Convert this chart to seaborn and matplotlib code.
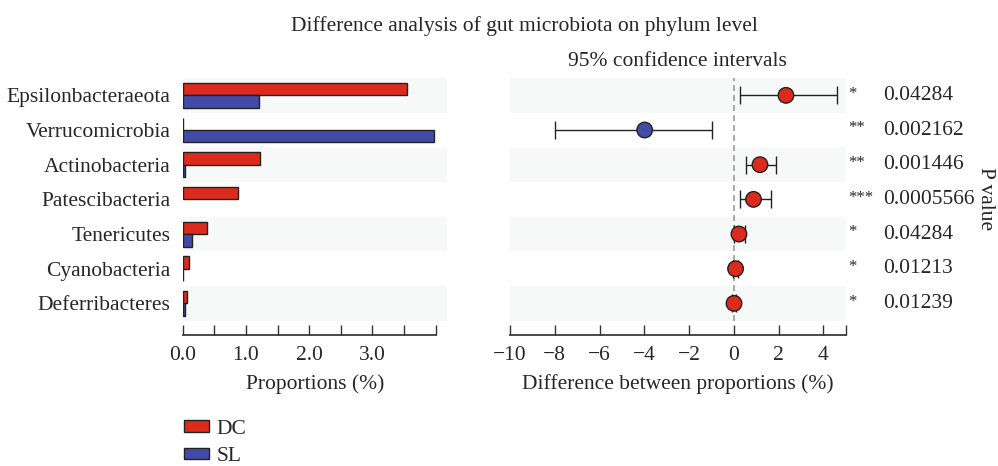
import matplotlib
matplotlib.use("Agg")
import matplotlib.pyplot as plt
import matplotlib.patches as mpatches
import numpy as np
import pandas as pd
import seaborn as sns

# Phyla and mean relative abundances (%) per group
phyla = ["Epsilonbacteraeota", "Verrucomicrobia", "Actinobacteria", "Patescibacteria",
         "Tenericutes", "Cyanobacteria", "Deferribacteres"]
dc_prop = [3.55, 0.005, 1.22, 0.87, 0.39, 0.10, 0.07]
sl_prop = [1.20, 3.97, 0.04, 0.0, 0.14, 0.005, 0.04]

# Difference between proportions (DC - SL) with 95% confidence intervals
diff = [2.33, -3.98, 1.17, 0.88, 0.23, 0.08, 0.01]
ci_low = [0.28, -7.99, 0.55, 0.28, 0.03, -0.04, -0.07]
ci_high = [4.60, -0.96, 1.89, 1.66, 0.52, 0.20, 0.11]
stars = ["*", "**", "**", "***", "*", "*", "*"]
pvalues = ["0.04284", "0.002162", "0.001446", "0.0005566", "0.04284", "0.01213", "0.01239"]

groups = ["DC", "SL"]
colors = {"DC": "#dc2a1c", "SL": "#444ba6"}
band = "#f7f9f9"
edge = "#222222"

sns.set_theme(style="white")
plt.rcParams["font.family"] = ["Liberation Serif", "DejaVu Serif"]
FS = 15.5

fig = plt.figure(figsize=(9.98, 4.66), dpi=100)
ax1 = fig.add_axes([0.1831, 0.3118, 0.2648, 0.5208])
ax2 = fig.add_axes([0.5110, 0.3118, 0.3364, 0.5208])

# ---- left panel: grouped horizontal bars ----
df = pd.DataFrame({
    "phylum": phyla * 2,
    "prop": dc_prop + sl_prop,
    "group": ["DC"] * len(phyla) + ["SL"] * len(phyla),
})
for i in range(0, len(phyla), 2):
    ax1.axhspan(i - 0.5, i + 0.5, color=band, zorder=0, lw=0)
sns.barplot(data=df, y="phylum", x="prop", hue="group", hue_order=groups,
            order=phyla, orient="h", palette=colors, width=0.72, gap=0,
            saturation=1, edgecolor=edge, linewidth=1.0, legend=False,
            ax=ax1, zorder=2)
for p in ax1.patches:
    if isinstance(p, mpatches.Rectangle) and p.get_width() == 0:
        p.set_visible(False)
ax1.set_xlim(0, 4.18)
ax1.set_ylim(len(phyla) - 0.5, -0.5)
ax1.set_xticks(np.arange(0, 4.01, 0.5))
ax1.set_xticklabels(["0.0", "", "1.0", "", "2.0", "", "3.0", "", ""])
ax1.set_xlabel("Proportions (%)", fontsize=FS, labelpad=7)
ax1.set_ylabel("")
ax1.tick_params(axis="y", length=0, pad=9, labelsize=FS)
ax1.tick_params(axis="x", direction="in", length=7, width=1, color="#333333",
                labelsize=FS, pad=8, bottom=True)
sns.despine(ax=ax1, left=True, offset=10)
ax1.spines["bottom"].set_bounds(0, 4.0)
ax1.spines["bottom"].set_color("#333333")

# ---- right panel: differences with confidence intervals ----
ypos = np.arange(len(phyla))
for i in range(0, len(phyla), 2):
    ax2.axhspan(i - 0.5, i + 0.5, color=band, zorder=0, lw=0)
ax2.axvline(0, color="#999999", ls=(0, (3.5, 2.5)), lw=1.2, zorder=1)
d = np.array(diff)
err = np.vstack([d - np.array(ci_low), np.array(ci_high) - d])
ax2.errorbar(d, ypos, xerr=err, fmt="none", ecolor=edge, elinewidth=1.0,
             capsize=6.5, capthick=1.0, zorder=2)
pdf = pd.DataFrame({"diff": diff, "y": ypos,
                    "group": ["DC" if v > 0 else "SL" for v in diff]})
sns.scatterplot(data=pdf, x="diff", y="y", hue="group", palette=colors,
                s=125, edgecolor=edge, linewidth=1.0, legend=False, ax=ax2, zorder=3)
ax2.set_xlim(-10, 5)
ax2.set_ylim(len(phyla) - 0.5, -0.5)
ax2.set_xticks(np.arange(-10, 5.01, 1))
ax2.set_xticklabels(["\u221210", "", "\u22128", "", "\u22126", "", "\u22124", "",
                     "\u22122", "", "0", "", "2", "", "4", ""])
ax2.set_yticks([])
ax2.set_xlabel("Difference between proportions (%)", fontsize=FS, labelpad=7)
ax2.set_ylabel("")
ax2.tick_params(axis="x", direction="in", length=7, width=1, color="#333333",
                labelsize=FS, pad=8, bottom=True)
ax2.xaxis.set_minor_locator(matplotlib.ticker.NullLocator())
sns.despine(ax=ax2, left=True, offset=10)
ax2.spines["bottom"].set_color("#333333")
# only even ticks (and the axis end) carry marks
for t, v in zip(ax2.xaxis.get_major_ticks(), np.arange(-10, 5.01, 1)):
    if int(v) % 2 != 0 and v != 5:
        t.tick1line.set_visible(False)
ax2.set_title("95% confidence intervals", fontsize=FS, pad=9)

# significance stars and p-values
for y, s, pv in zip(ypos, stars, pvalues):
    ax2.text(1.008, y - 0.05, s, transform=ax2.get_yaxis_transform(), fontsize=12,
             ha="left", va="center")
    ax2.text(1.11, y, pv, transform=ax2.get_yaxis_transform(), fontsize=FS,
             ha="left", va="center")
fig.text(0.987, 0.573, "P value", rotation=270, fontsize=FS, ha="center", va="center")

fig.suptitle("Difference analysis of gut microbiota on phylum level",
             x=0.525, y=0.965, fontsize=FS)

handles = [mpatches.Patch(facecolor=colors[g], edgecolor=edge, linewidth=1.0) for g in groups]
fig.legend(handles, groups, loc="upper left", bbox_to_anchor=(0.176, 0.118),
           frameon=False, fontsize=FS, handlelength=1.15, handleheight=0.45,
           handletextpad=0.35, labelspacing=0.4, borderaxespad=0)

fig.savefig("out.png", dpi=100)
